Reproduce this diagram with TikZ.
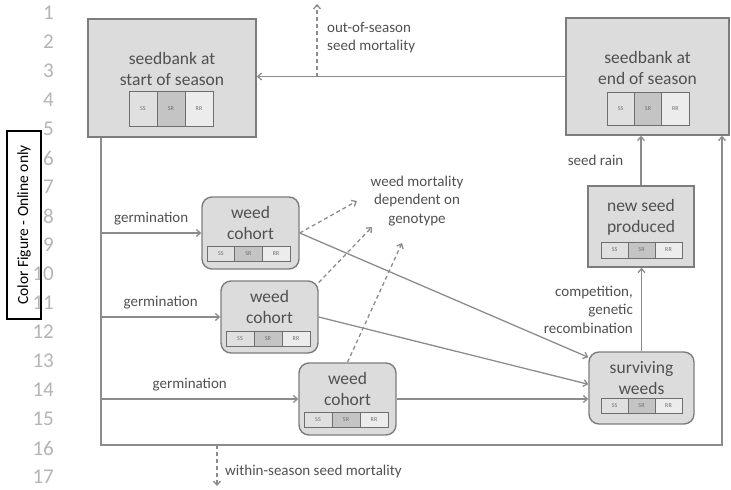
\documentclass[tikz,border=0pt]{standalone}
\usepackage{fontspec}
\setmainfont{Carlito}
\usetikzlibrary{arrows.meta}
\definecolor{boxfill}{RGB}{220,220,220}
\definecolor{boxline}{RGB}{125,125,125}
\definecolor{arrowgray}{RGB}{140,140,140}
\definecolor{txtgray}{RGB}{80,80,80}
\definecolor{ssfill}{RGB}{224,224,224}
\definecolor{srfill}{RGB}{196,196,196}
\definecolor{rrfill}{RGB}{236,236,236}
\definecolor{cellline}{RGB}{110,110,110}
\definecolor{numgray}{RGB}{180,180,180}

\begin{document}
\begin{tikzpicture}[x=1pt, y=-1pt, every node/.style={text=txtgray},
	bank/.style={draw=boxline, fill=boxfill, line width=1.4pt},
	cohort/.style={bank, rounded corners=10pt, minimum width=97pt, minimum height=72pt},
	boxtxt/.style={font=\fontsize{17.5}{21}\selectfont, align=center, inner sep=0pt},
	lbl/.style={font=\fontsize{15}{18.5}\selectfont, inner sep=0pt},
	cell/.style={draw=cellline, line width=0.9pt, inner sep=0pt, text=cellline, font=\fontsize{6}{6}\selectfont},
	flow/.style={draw=arrowgray, line width=1.3pt, -{Straight Barb[length=4pt,width=7pt]}},
	dflow/.style={flow, dash pattern=on 4pt off 3pt},
	lnum/.style={font=\fontsize{21}{21}\selectfont, text=numgray, anchor=east, inner sep=0pt, text depth=0pt}]
	\useasboundingbox (0,0) rectangle (731,490);
	\foreach \i in {1,...,17}
		\node[lnum] (ln\i) at (54,{13+29*(\i-1)}) {\i};
	\node[draw=black, line width=2.2pt, rotate=90, minimum width=188pt, minimum height=34pt, inner sep=0pt, text=black, font=\fontsize{15.5}{16}\selectfont] (cf) at (24,225) {Color Figure - Online only};
	
	\node[bank, minimum width=168pt, minimum height=118pt] (sb) at (172,78) {};
	\node[bank, minimum width=163pt, minimum height=117pt] (se) at (647.5,76.5) {};
	\node[bank, minimum width=106pt, minimum height=81pt] (ns) at (641,226.5) {};
	\node[cohort, minimum width=105pt] (sw) at (641.5,388) {};
	\node[cohort] (c1) at (250.5,233) {};
	\node[cohort] (c2) at (269.5,317) {};
	\node[cohort] (c3) at (347.5,399) {};
	\node[boxtxt] (sb-t) at ([yshift=9pt]sb.center) {seedbank at\\start of season};
	\node[boxtxt] (se-t) at ([yshift=8.5pt]se.center) {seedbank at\\end of season};
	\node[boxtxt] (ns-t) at ([yshift=9pt]ns.center) {new seed\\produced};
	\node[boxtxt] (sw-t) at ([yshift=10pt]sw.center) {surviving\\weeds};
	\foreach \c in {c1,c2,c3}
		\node[boxtxt] (\c-t) at ([yshift=10pt]\c.center) {weed\\cohort};
	\foreach \n/\dx/\dy/\w/\h in {sb/-1/-30.5/28/35, se/0.5/-32/27.3/33, ns/0.5/-23.5/27/16, sw/0/-17.5/27/15, c1/-2/-20.5/27.7/15, c2/-1.5/-21.5/28/15, c3/-1.5/-20.5/28/15}
		\foreach \g/\f [count=\j] in {SS/ssfill, SR/srfill, RR/rrfill}
			\node[cell, fill=\f, minimum width=\w, minimum height=\h] (\n-\g) at ([xshift={\dx+(\j-2)*\w}, yshift=\dy]\n.center) {\g};
	
	\coordinate (lb) at (101,445);
	\coordinate (rb) at (722,445);
	\coordinate (oos) at (317,4);
	\coordinate (ws) at (217,486);
	\coordinate (m1) at (357,201);
	\coordinate (m2) at (372,227);
	\coordinate (m3) at (402,243);
	\draw[flow] (se.west) -- (se.west -| sb.east);
	\draw[flow] (sb.south -| lb) -- (lb) -- (rb) -- (rb |- se.south);
	\draw[dflow] (oos |- se.west) -- (oos);
	\node[lbl, anchor=west, align=left] (oos-t) at (327,37.5) {out-of-season\\seed mortality};
	\draw[dflow] (ws |- lb) -- (ws);
	\node[lbl, anchor=west] (ws-t) at (225,471) {within-season seed mortality};
	\draw[flow] (lb |- c1.west) -- (c1.west) node[lbl, midway, above=7pt] (g1) {germination};
	\draw[flow] (lb |- c2.west) -- (c2.west) node[lbl, midway, above=7pt] (g2) {germination};
	\draw[flow] (lb |- c3.west) -- (c3.west) node[lbl, pos=0.45, above=7pt] (g3) {germination};
	\node[lbl, align=center] (wm) at (417,201) {weed mortality\\dependent on\\genotype};
	\draw[dflow] (c1.east) -- (m1);
	\draw[dflow] (c2.35) -- (m2);
	\draw[dflow] (c3.north) -- (m3);
	\draw[flow] (c1.east) -- (sw.150);
	\draw[flow] (c2.east) -- (sw.176);
	\draw[flow] (c3.east) -- (c3.east -| sw.west);
	\draw[flow] (sw.north) -- (sw.north |- ns.south) node[lbl, midway, left=8pt, align=right] (cg) {competition,\\genetic\\recombination};
	\draw[flow] (ns.north) -- (ns.north |- se.south) node[lbl, midway, left=17pt] (sr) {seed rain};
\end{tikzpicture}
\end{document}
